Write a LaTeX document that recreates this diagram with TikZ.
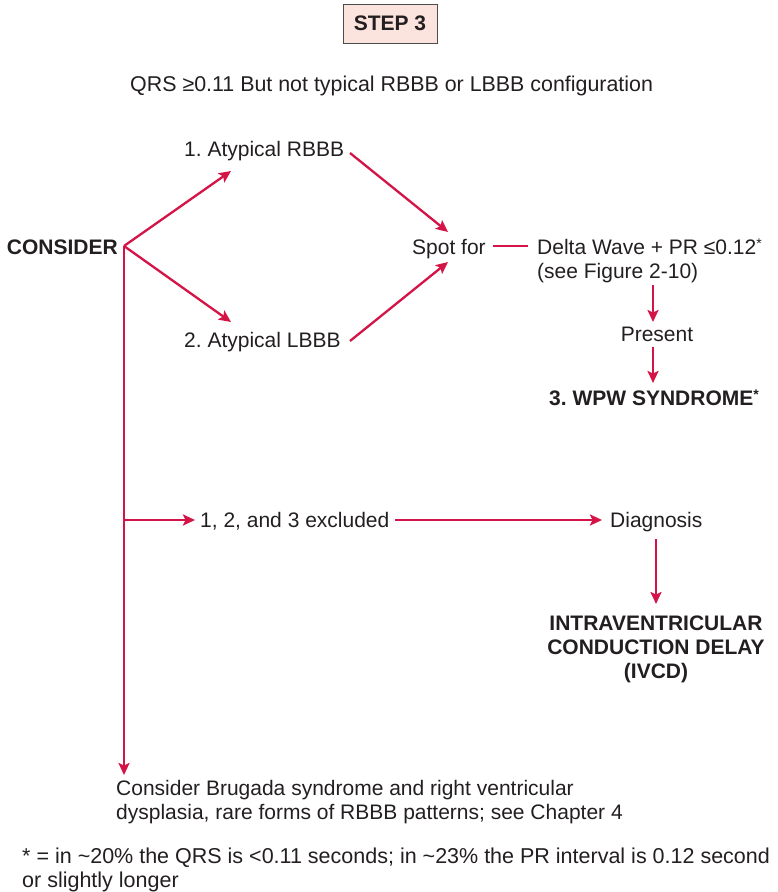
\documentclass[tikz,border=0pt]{standalone}
\usepackage{fontspec}
\setmainfont{Liberation Sans}
\usetikzlibrary{arrows.meta}
\definecolor{ared}{RGB}{212,20,70}
\definecolor{boxpink}{RGB}{251,227,222}
\definecolor{ink}{RGB}{35,31,32}
\newcommand{\supast}{\raisebox{0.5ex}{\fontsize{14}{14}\selectfont *}}
\frenchspacing
\begin{document}
\frenchspacing
\begin{tikzpicture}[x=1pt,y=-1pt,
  txt/.style={inner sep=0pt, text=ink, font=\fontsize{21}{24}\selectfont},
  btxt/.style={inner sep=0pt, text=ink, font=\fontsize{21}{24}\selectfont\bfseries},
  conn/.style={draw=ared, line width=2.3pt},
  arr/.style={conn, -{Stealth[length=12pt,width=11pt,inset=2.5pt]}}]
\useasboundingbox (0,0) rectangle (778,892);
\node[draw=ink!80, fill=boxpink, line width=1pt, minimum width=94pt, minimum height=39pt,
      inner sep=0pt, text=ink, font=\fontsize{21}{24}\selectfont\bfseries] (step) at (390,23.5) {STEP 3};
\node[txt, font=\fontsize{21.4}{24}\selectfont, anchor=base west] (qrs) at (130,91) {QRS ≥0.11 But not typical RBBB or LBBB configuration};
\node[btxt, anchor=base east] (cons) at (118,254) {CONSIDER};
\node[txt, anchor=base west] (rbbb) at (184,156) {1. Atypical RBBB};
\node[txt, anchor=base west] (lbbb) at (184,347) {2. Atypical LBBB};
\node[txt, anchor=base west] (spot) at (412,254) {Spot for};
\node[txt, anchor=north west, align=left] (delta) at (537,239) {Delta Wave + PR ≤0.12\supast\\(see Figure 2-10)};
\node[txt, anchor=base] (pres) at (657,341) {Present};
\node[btxt, anchor=base west] (wpw) at (549,405) {3. WPW SYNDROME\supast};
\node[txt, anchor=base west] (excl) at (200,527) {1, 2, and 3 excluded};
\node[txt, anchor=base west] (diag) at (610,527) {Diagnosis};
\node[btxt, anchor=north, align=center] (ivcd) at (656,616) {INTRAVENTRICULAR\\CONDUCTION DELAY\\(IVCD)};
\node[txt, anchor=north west, align=left] (brug) at (116,780) {Consider Brugada syndrome and right ventricular\\dysplasia, rare forms of RBBB patterns; see Chapter 4};
\node[txt, font=\fontsize{21.5}{23.5}\selectfont, anchor=north west, align=left] (foot) at (22,848) {* = in \textasciitilde 20\% the QRS is <0.11 seconds; in \textasciitilde 23\% the PR interval is 0.12 second\\or slightly longer};
% coordinates
\coordinate (j) at (124,246);
\coordinate (rtip) at (231,171);
\coordinate (ltip) at (231,322);
\coordinate (rs) at (350,153);
\coordinate (ls) at (350,341);
\coordinate (su) at (448,232);
\coordinate (sl) at (448,262);
\coordinate (d0) at (493,246);
\coordinate (d1) at (528,246);
\coordinate (p0) at (653,285);
\coordinate (p1) at (653,322);
\coordinate (w0) at (653,347);
\coordinate (w1) at (653,383);
\coordinate (vb) at (124,775);
\coordinate (h0) at (124,520);
\coordinate (h1) at (195,520);
\coordinate (e0) at (395,520);
\coordinate (e1) at (602,520);
\coordinate (i0) at (656,539);
\coordinate (i1) at (656,604);
% connectors
\draw[arr] (j) -- (rtip);
\draw[arr] (j) -- (ltip);
\draw[arr] (rs) -- (su);
\draw[arr] (ls) -- (sl);
\draw[conn] (d0) -- (d1);
\draw[arr] (p0) -- (p1);
\draw[arr] (w0) -- (w1);
\draw[arr] (j) -- (vb);
\draw[arr] (h0) -- (h1);
\draw[arr] (e0) -- (e1);
\draw[arr] (i0) -- (i1);
\end{tikzpicture}
\end{document}
